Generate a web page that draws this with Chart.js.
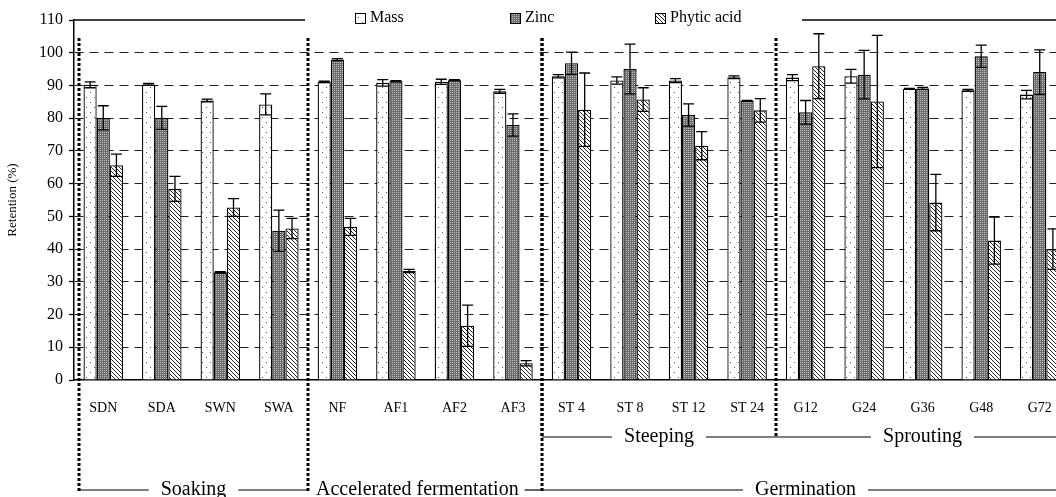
<!DOCTYPE html>
<html>
<head>
<meta charset="utf-8">
<script src="https://cdn.jsdelivr.net/npm/chart.js@4.4.0/dist/chart.umd.min.js"></script>
<style>
    html, body { margin: 0; padding: 0; background: #fff; overflow: hidden; }
    #wrap { position: absolute; left: 0; top: 0; width: 1072px; height: 497px; }
</style>
</head>
<body>
<div id="wrap"><canvas id="chart-retention"></canvas></div>
<script>
// values (retention, %)
const samples = ['SDN', 'SDA', 'SWN', 'SWA', 'NF', 'AF1', 'AF2', 'AF3', 'ST 4', 'ST 8', 'ST 12', 'ST 24', 'G12', 'G24', 'G36', 'G48', 'G72'];
const mass = [90.2, 90.3, 85.4, 84.2, 91.1, 90.8, 91.1, 88.2, 92.8, 91.5, 91.5, 92.5, 92.4, 92.8, 89.0, 88.5, 87.2];
const massErr = [0.9, 0.3, 0.4, 3.2, 0.2, 1.0, 0.8, 0.6, 0.5, 1.1, 0.6, 0.4, 0.9, 2.1, 0.1, 0.3, 1.3];
const zinc = [80.1, 80.1, 32.9, 45.6, 97.9, 91.3, 91.6, 77.9, 96.8, 95.0, 81.0, 85.3, 81.8, 93.3, 89.1, 98.9, 94.1];
const zincErr = [3.7, 3.5, 0.2, 6.3, 0.3, 0.2, 0.2, 3.4, 3.4, 7.6, 3.4, 0.1, 3.6, 7.4, 0.3, 3.4, 6.8];
const phytic = [65.6, 58.4, 52.7, 46.3, 46.8, 33.3, 16.6, 5.1, 82.6, 85.7, 71.6, 82.4, 95.9, 85.1, 54.2, 42.6, 40.0];
const phyticErr = [3.4, 3.8, 2.7, 3.1, 2.6, 0.5, 6.3, 0.8, 11.2, 3.6, 4.3, 3.6, 9.9, 20.2, 8.6, 7.2, 6.2];
const yMin = 0, yMax = 110, yStep = 10;
// processing stages: label, first sample, last sample, row under the axis
const stageNames = ['Soaking', 'Accelerated fermentation', 'Germination', 'Steeping', 'Sprouting'];
const stageFirst = [0, 4, 8, 8, 12];
const stageLast = [3, 7, 16, 11, 16];
const stageRow = [2, 2, 2, 1, 1];

const FONT = 'Liberation Serif';
Chart.defaults.font.family = FONT;
Chart.defaults.color = '#000';

function makePattern(w, h, draw) {
    let c = document.createElement('canvas');
    c.width = w;
    c.height = h;
    let g = c.getContext('2d');
    draw(g);
    return g.createPattern(c, 'repeat');
}

let massFill = makePattern(8, 10, function (g) {
    g.fillStyle = '#fff';
    g.fillRect(0, 0, 8, 10);
    g.fillStyle = '#555';
    g.fillRect(2, 2, 1, 1);
    g.fillRect(6, 7, 1, 1);
});
let zincFill = makePattern(2, 2, function (g) {
    g.fillStyle = '#6c6c6c';
    g.fillRect(0, 0, 2, 2);
    g.fillStyle = '#c0c0c0';
    g.fillRect(0, 0, 1, 1);
});
let phyticFill = makePattern(4, 4, function (g) {
    g.fillStyle = '#fff';
    g.fillRect(0, 0, 4, 4);
    g.fillStyle = '#222';
    for (let i = 0; i < 4; i++) g.fillRect(i, i, 1, 1);
});

// error bars on top of each bar
const errorBars = {
    id: 'errorBars',
    afterDatasetsDraw(chart) {
        let ctx = chart.ctx, y = chart.scales.y;
        ctx.save();
        ctx.strokeStyle = '#000';
        ctx.lineWidth = 1.3;
        chart.data.datasets.forEach(function (ds, i) {
            chart.getDatasetMeta(i).data.forEach(function (bar, j) {
                let top = y.getPixelForValue(ds.data[j] + ds.errors[j]);
                let bot = y.getPixelForValue(ds.data[j] - ds.errors[j]);
                ctx.beginPath();
                ctx.moveTo(bar.x, top); ctx.lineTo(bar.x, bot);
                ctx.moveTo(bar.x - 5.5, top); ctx.lineTo(bar.x + 5.5, top);
                ctx.moveTo(bar.x - 5.5, bot); ctx.lineTo(bar.x + 5.5, bot);
                ctx.stroke();
            });
        });
        ctx.restore();
    }
};

// top frame line, legend, stage separators and brackets
const decorations = {
    id: 'decorations',
    afterDraw(chart) {
        let ctx = chart.ctx, x = chart.scales.x, y = chart.scales.y, area = chart.chartArea;
        let legendLeft = 305, legendRight = 802;
        ctx.save();

        ctx.strokeStyle = '#000';
        ctx.lineWidth = 1.5;
        ctx.beginPath();
        ctx.moveTo(area.left, area.top); ctx.lineTo(legendLeft, area.top);
        ctx.moveTo(legendRight, area.top); ctx.lineTo(area.right, area.top);
        ctx.stroke();

        // legend
        let legendX = [355, 510, 655];
        ctx.font = '16px "' + FONT + '"';
        ctx.textBaseline = 'middle';
        ctx.textAlign = 'left';
        chart.data.datasets.forEach(function (ds, i) {
            ctx.fillStyle = ds.backgroundColor;
            ctx.fillRect(legendX[i], 13, 10, 10);
            ctx.lineWidth = 1;
            ctx.strokeRect(legendX[i] + 0.5, 13.5, 10, 10);
            ctx.fillStyle = '#000';
            ctx.fillText(ds.label, legendX[i] + 15, 18);
        });

        function boundary(i) {
            if (i < 0) return area.left + 5;
            if (i >= samples.length - 1) return area.right;
            return (x.getPixelForValue(i) + x.getPixelForValue(i + 1)) / 2;
        }
        let rowY = { 1: 437, 2: 490 };
        let dotTop = y.getPixelForValue(104.5);

        // dotted separators
        ctx.strokeStyle = '#000';
        ctx.lineWidth = 3;
        ctx.setLineDash([3, 2]);
        stageNames.forEach(function (name, k) {
            let x0 = Math.round(boundary(stageFirst[k] - 1));
            ctx.beginPath();
            ctx.moveTo(x0, dotTop);
            ctx.lineTo(x0, rowY[stageRow[k]] + 1);
            ctx.stroke();
        });
        ctx.setLineDash([]);

        // stage labels with bracket lines
        ctx.font = '20px "' + FONT + '"';
        ctx.textAlign = 'center';
        ctx.lineWidth = 1.2;
        stageNames.forEach(function (name, k) {
            let x0 = Math.round(boundary(stageFirst[k] - 1));
            let x1 = Math.round(boundary(stageLast[k]));
            let ly = rowY[stageRow[k]];
            let w = ctx.measureText(name).width;
            let gap = 12;
            let mid = (x0 + x1) / 2;
            // a label that fills its span sits just right of the separator
            if (w + 2 * gap + 20 > x1 - x0) mid = x0 + 8 + w / 2;
            ctx.beginPath();
            if (mid - w / 2 - gap > x0) {
                ctx.moveTo(x0, ly); ctx.lineTo(mid - w / 2 - gap, ly);
            }
            if (mid + w / 2 + 6 < x1) {
                ctx.moveTo(mid + w / 2 + (mid - w / 2 - gap > x0 ? gap : 6), ly); ctx.lineTo(x1, ly);
            }
            ctx.stroke();
            ctx.fillStyle = '#000';
            ctx.fillText(name, mid, ly);
        });
        ctx.restore();
    }
};

let ctr = document.getElementById('chart-retention').getContext('2d');
let chart_retention = new Chart(ctr, {
    type: 'bar',
    data: {
        labels: samples,
        datasets: [{
            label: 'Mass',
            data: mass,
            errors: massErr,
            backgroundColor: massFill,
            borderColor: '#000',
            borderWidth: 1.3
        }, {
            label: 'Zinc',
            data: zinc,
            errors: zincErr,
            backgroundColor: zincFill,
            borderColor: '#000',
            borderWidth: 1.3
        }, {
            label: 'Phytic acid',
            data: phytic,
            errors: phyticErr,
            backgroundColor: phyticFill,
            borderColor: '#000',
            borderWidth: 1.3
        }]
    },
    options: {
        responsive: true,
        maintainAspectRatio: false,
        animation: false,
        devicePixelRatio: 1,
        layout: {
            padding: { top: 20, right: 3, left: 0, bottom: 0 }
        },
        datasets: {
            bar: { categoryPercentage: 0.675, barPercentage: 1.0 }
        },
        scales: {
            x: {
                afterFit: function (s) { s.height = 117; },
                grid: { display: false },
                border: { display: true, color: '#000', width: 1.5 },
                ticks: {
                    color: '#000',
                    padding: 12,
                    maxRotation: 0,
                    autoSkip: false,
                    font: { family: FONT, size: 14 }
                }
            },
            y: {
                min: yMin,
                max: yMax,
                afterFit: function (s) { s.width = 74; },
                ticks: {
                    stepSize: yStep,
                    color: '#000',
                    padding: 6,
                    font: { family: FONT, size: 16 }
                },
                grid: {
                    color: function (c) {
                        if (c.tick && (c.tick.value === yMin || c.tick.value === yMax)) return 'rgba(0,0,0,0)';
                        return '#222';
                    },
                    lineWidth: 1,
                    tickColor: '#000',
                    tickLength: 5,
                    tickWidth: 1.3
                },
                border: { display: true, color: '#000', width: 1.5, dash: [9, 6] },
                title: {
                    display: true,
                    text: 'Retention (%)',
                    color: '#000',
                    font: { family: FONT, size: 13 },
                    padding: { top: 5, bottom: 0 }
                }
            }
        },
        plugins: {
            legend: { display: false },
            tooltip: { enabled: false }
        }
    },
    plugins: [errorBars, decorations]
});
</script>
</body>
</html>
